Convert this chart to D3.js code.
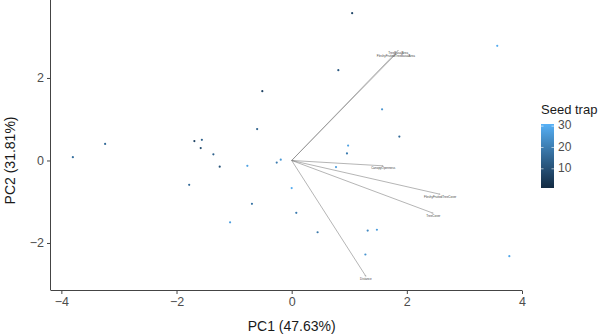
<!DOCTYPE html>
<html>
<head>
<meta charset="utf-8">
<script src="https://cdn.jsdelivr.net/npm/d3@7"></script>
<style>
  html, body { margin: 0; padding: 0; background: #fff; }
  svg { display: block; font-family: "Liberation Sans", Arial, sans-serif; }
</style>
</head>
<body>
<svg id="chart" width="600" height="335"></svg>
<script>
// ---- data ----
const pc1 = [1.05, 3.57, 0.81, 1.57, 1.87, -0.51, -0.60, -3.24, -3.80, -1.69, -1.56, -1.58, -1.36, -1.25, -0.77, -0.26, -0.19, -1.78, 0.00, -0.69, -1.07, 0.08, 0.45, 1.32, 1.48, 1.28, 3.78, 0.98, 0.96, 0.77];
const pc2 = [3.57, 2.78, 2.19, 1.24, 0.58, 1.68, 0.76, 0.40, 0.08, 0.47, 0.50, 0.30, 0.15, -0.15, -0.13, -0.05, 0.02, -0.59, -0.67, -1.05, -1.50, -1.27, -1.74, -1.70, -1.68, -2.28, -2.32, 0.36, 0.17, -0.16];
const seedTrap = [8, 30, 12, 25, 16, 7, 14, 16, 17, 7, 14, 9, 14, 11, 28, 20, 26, 16, 30, 18, 27, 20, 19, 23, 27, 25, 29, 28, 20, 27];

const loadingNames = ["TreeBasalArea", "FleshyFruitedTreeBasalArea", "CanopyOpenness", "FleshyFruitedTreeCover", "TreeCover", "Distance"];
const loadingPC1 = [1.85, 1.81, 1.59, 2.58, 2.46, 1.29];
const loadingPC2 = [2.67, 2.58, -0.13, -0.82, -1.28, -2.81];

const xTicks = [-4, -2, 0, 2, 4];
const yTicks = [-2, 0, 2];
const legendTicks = [10, 20, 30];
const xTitle = "PC1 (47.63%)";
const yTitle = "PC2 (31.81%)";
const legendTitle = "Seed trap";

// ---- scales ----
const svg = d3.select("#chart");
const x = d3.scaleLinear().domain([-4.18, 4.0]).range([51, 522]);
const y = d3.scaleLinear().domain([-3.14, 3.89]).range([290, 0]);
const col = d3.scaleLinear().domain([1, 31]).range(["#132B43", "#56B1F7"]).interpolate(d3.interpolateLab);
const fmt = d3.format("");

// ---- loadings (arrows) ----
const defs = svg.append("defs");
defs.append("marker").attr("id", "ah").attr("viewBox", "0 0 10 10")
  .attr("refX", 9).attr("refY", 5).attr("markerWidth", 2).attr("markerHeight", 2)
  .attr("markerUnits", "userSpaceOnUse").attr("orient", "auto")
  .append("path").attr("d", "M0,0 L10,5 L0,10").attr("fill", "none").attr("stroke", "#888").attr("stroke-width", 1);

const arrows = svg.append("g");
loadingNames.forEach((n, i) => {
  arrows.append("line")
    .attr("x1", x(0)).attr("y1", y(0))
    .attr("x2", x(loadingPC1[i])).attr("y2", y(loadingPC2[i]))
    .attr("stroke", "#777").attr("stroke-width", 0.55)
    .attr("marker-end", "url(#ah)");
});
loadingNames.forEach((n, i) => {
  arrows.append("text")
    .attr("x", x(loadingPC1[i])).attr("y", y(loadingPC2[i]) + 2.6)
    .attr("text-anchor", "middle").attr("dominant-baseline", "middle")
    .attr("font-size", 3).attr("fill", "#444")
    .text(n);
});

// ---- points ----
svg.append("g").selectAll("circle")
  .data(pc1.map((v, i) => i))
  .join("circle")
  .attr("cx", i => x(pc1[i])).attr("cy", i => y(pc2[i]))
  .attr("r", 1.1)
  .attr("fill", i => col(seedTrap[i]));

// ---- axes ----
const xAxis = svg.append("g").attr("transform", "translate(0,290.5)")
  .call(d3.axisBottom(x).tickValues(xTicks).tickFormat(fmt).tickSizeOuter(0).tickSize(3.5).tickPadding(3));
const yAxis = svg.append("g").attr("transform", "translate(50.5,0)")
  .call(d3.axisLeft(y).tickValues(yTicks).tickFormat(fmt).tickSizeOuter(0).tickSize(3.5).tickPadding(3));
[xAxis, yAxis].forEach(a => {
  a.select(".domain").attr("stroke", "#444").attr("stroke-width", 1);
  a.selectAll(".tick line").attr("stroke", "#444").attr("stroke-width", 1);
  a.selectAll(".tick text").attr("fill", "#4d4d4d").attr("font-size", 12.5)
    .attr("font-family", "'Liberation Sans', Arial, sans-serif");
});
xAxis.select(".domain").attr("d", `M${x.range()[0]},0H${x.range()[1]}`);
yAxis.select(".domain").attr("d", `M0,${y.range()[1]}V${y.range()[0]+0.5}`);

svg.append("text").attr("x", x(0)).attr("y", 331)
  .attr("text-anchor", "middle").attr("font-size", 14).attr("fill", "#1a1a1a").text(xTitle);
svg.append("text").attr("transform", `translate(15,${y(0)}) rotate(-90)`)
  .attr("text-anchor", "middle").attr("font-size", 14).attr("fill", "#1a1a1a").text(yTitle);

// ---- legend ----
const lg = svg.append("g");
lg.append("text").attr("x", 541).attr("y", 113.5).attr("font-size", 13).attr("fill", "#1a1a1a").text(legendTitle);
const ly = d3.scaleLinear().domain([1, 31]).range([188, 124]);
const grad = defs.append("linearGradient").attr("id", "lgrad")
  .attr("x1", 0).attr("y1", 1).attr("x2", 0).attr("y2", 0);
d3.range(0, 1.0001, 0.1).forEach(t => {
  grad.append("stop").attr("offset", t).attr("stop-color", col(1 + 30 * t));
});
lg.append("rect").attr("x", 541).attr("y", 124).attr("width", 13).attr("height", 64).attr("fill", "url(#lgrad)");
legendTicks.forEach(v => {
  lg.append("line").attr("x1", 541).attr("x2", 543.5).attr("y1", ly(v)).attr("y2", ly(v)).attr("stroke", "#fff").attr("stroke-width", 0.6);
  lg.append("line").attr("x1", 551.5).attr("x2", 554).attr("y1", ly(v)).attr("y2", ly(v)).attr("stroke", "#fff").attr("stroke-width", 0.6);
  lg.append("text").attr("x", 558).attr("y", ly(v)).attr("dominant-baseline", "middle")
    .attr("font-size", 12).attr("fill", "#4d4d4d").text(v);
});
</script>
</body>
</html>
